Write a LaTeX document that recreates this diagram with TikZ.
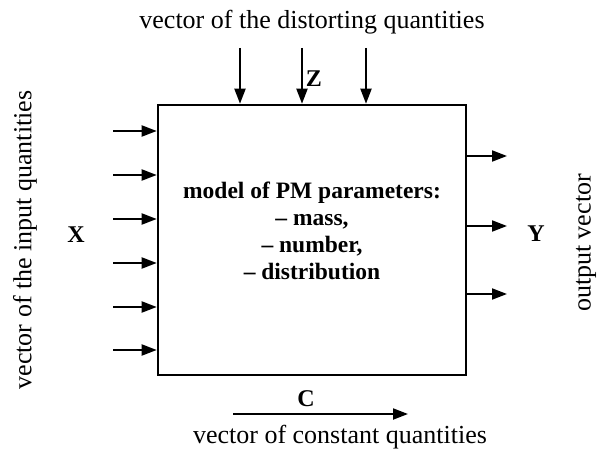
\documentclass[tikz,border=0pt]{standalone}
\usepackage{fontspec}
\setmainfont{Liberation Serif}
\usetikzlibrary{arrows.meta}
\begin{document}
\begin{tikzpicture}[x=1pt,y=-1pt,
  arr/.style={line width=2pt,-{Triangle[length=15pt,width=11pt]}},
  lbl/.style={font=\fontsize{26}{30}\selectfont,inner sep=0pt},
  sym/.style={font=\fontsize{24}{28}\selectfont\bfseries,inner sep=0pt},
  boxstyle/.style={draw,line width=2.6pt,minimum width=308pt,minimum height=270pt,inner sep=0pt}]
\useasboundingbox (0,0) rectangle (603,452);
\node[boxstyle] (box) at (312,240) {};
\node[font=\fontsize{23.5}{27}\selectfont\bfseries,align=center,inner sep=0pt] (model) at (312,231)
  {model of PM parameters:\\ – mass,\\ – number,\\ – distribution};
% inputs
\foreach \i/\y in {1/131,2/175,3/219,4/263,5/307,6/350}{
  \coordinate (in\i) at (113,\y);
  \draw[arr] (in\i) -- (in\i -| box.west);
}
% top
\foreach \i/\x in {1/240,2/302,3/366}{
  \coordinate (t\i) at (\x,48);
  \draw[arr] (t\i) -- (t\i |- box.north);
}
% right
\foreach \i/\y in {1/156,2/226,3/294}{
  \coordinate (r\i) at (507,\y);
  \draw[arr] (r\i -| box.east) -- (r\i);
}
% bottom
\coordinate (c1) at (233,414);
\coordinate (c2) at (408,414);
\draw[arr] (c1) -- (c2);
\node[lbl] (top) at (312,22) {vector of the distorting quantities};
\node[lbl] (bot) at (340,437) {vector of constant quantities};
\node[lbl,rotate=90] (left) at (25,240) {vector of the input quantities};
\node[lbl,rotate=90] (right) at (586,243) {output vector};
\node[sym] (X) at (76,235) {X};
\node[sym] (Y) at (536,234) {Y};
\node[sym] (Z) at (314,79) {Z};
\node[sym] (C) at (306,399) {C};
\end{tikzpicture}
\end{document}
